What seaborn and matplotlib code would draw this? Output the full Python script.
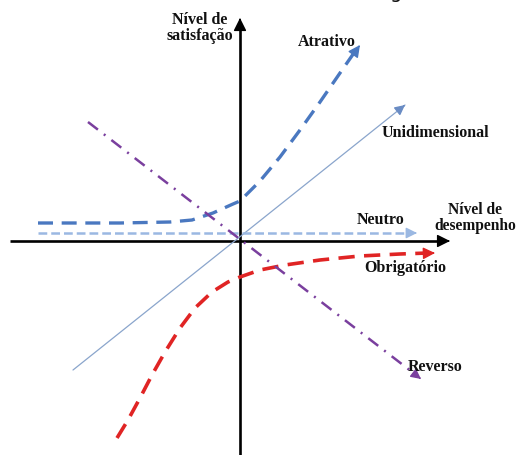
import numpy as np
import pandas as pd
import seaborn as sns
import matplotlib.pyplot as plt

# ---- data (diagram coordinates: origin at the axis crossing) ----
atrativo_x = [-202, -120, -70, -48, -27, -7, 0, 20, 40, 60, 80, 100, 120]
atrativo_y = [18, 18, 19, 21, 28, 37, 40, 60, 84, 111, 139, 168, 196]

neutro_x = [-202, 177]
neutro_y = [8, 8]

unidim_x = [-167, 165]
unidim_y = [-129, 136]

obrig_x = [-123, -112, -100, -88, -75, -60, -45, -28, -12, 0, 20, 45, 80, 120, 160, 195]
obrig_y = [-197, -179, -157, -134, -111, -87, -67, -51, -41, -36, -29, -24, -19, -15, -13, -12]

reverso_x = [-152, 181]
reverso_y = [119, -138]

labels = ["Atrativo", "Unidimensional", "Neutro", "Obrigatório", "Reverso"]
axis_labels = ["Nível de\nsatisfação", "Nível de\ndesempenho"]

sns.set_theme(style="white")
plt.rcParams['font.family'] = ['Liberation Serif', 'DejaVu Serif']

fig = plt.figure(figsize=(5.17, 4.55), dpi=100)
ax = fig.add_axes([0, 0, 1, 1])
ax.set_xlim(-240, 277)
ax.set_ylim(-214, 241)
ax.axis('off')


def head(xs, ys, color, scale=12, lw=1.0):
    x1, y1 = xs[-1], ys[-1]
    x0, y0 = xs[-2], ys[-2]
    d = np.hypot(x1 - x0, y1 - y0)
    ux, uy = (x1 - x0) / d, (y1 - y0) / d
    ax.annotate('', xy=(x1, y1), xytext=(x1 - ux * 2, y1 - uy * 2),
                arrowprops=dict(arrowstyle='-|>,head_length=0.6,head_width=0.3',
                                color=color, lw=lw, shrinkA=0, shrinkB=0,
                                mutation_scale=scale))


# axes
ax.plot([-230, 205], [0, 0], color='black', lw=1.9, solid_capstyle='butt')
head([-230, 210], [0, 0], 'black', scale=13)
ax.plot([0, 0], [-214, 218], color='black', lw=1.9, solid_capstyle='butt')
head([0, 0], [-214, 223], 'black', scale=13)

# unidimensional
sns.lineplot(x=unidim_x, y=unidim_y, sort=False, estimator=None, ax=ax,
             color='#8aa5cc', lw=0.9)
head(unidim_x, unidim_y, '#6a8cc4', scale=10)

# neutro
sns.lineplot(x=neutro_x[:1] + [neutro_x[1] - 6], y=neutro_y, sort=False, estimator=None, ax=ax,
             color='#9bb8e2', lw=1.8, ls=(0, (3.5, 1.6)))
head(neutro_x, neutro_y, '#9bb8e2', scale=11)

# atrativo
sns.lineplot(x=atrativo_x[:-1] + [atrativo_x[-1] - 4], y=atrativo_y[:-1] + [atrativo_y[-1] - 5],
             sort=False, estimator=None, ax=ax,
             color='#4a78c0', lw=2.4, ls=(0, (4.5, 2.6)))
head(atrativo_x, atrativo_y, '#4a78c0', scale=12)

# obrigatorio
sns.lineplot(x=obrig_x[:-1] + [obrig_x[-1] - 7], y=obrig_y, sort=False, estimator=None, ax=ax,
             color='#e02424', lw=2.6, ls=(0, (4.5, 2.6)))
head(obrig_x, obrig_y, '#e02424', scale=12)

# reverso
sns.lineplot(x=[reverso_x[0], reverso_x[1] - 5], y=[reverso_y[0], reverso_y[1] + 4],
             sort=False, estimator=None, ax=ax,
             color='#7a3f9e', lw=1.8, ls=(0, (5, 3, 0.8, 3)))
head(reverso_x, reverso_y, '#7a3f9e', scale=10)

# texts
tk = dict(fontsize=11.5, fontweight='bold', color='#111111', ha='center', va='center')
ax.text(-40, 213, axis_labels[0], linespacing=1.05, **tk)
ax.text(235, 23, axis_labels[1], linespacing=1.05,
        **{**tk, 'fontsize': 11.2})
ax.text(87, 199, labels[0], **tk)
ax.text(195, 108, labels[1], **tk)
ax.text(141, 21, labels[2], **tk)
ax.text(165, -27, labels[3], **tk)
ax.text(195, -126, labels[4], **tk)

# cropped caption fragment at the very top
fig.text(396 / 517, 1 + 1.5 / 455, 'g', fontsize=14, family='DejaVu Sans',
         ha='center', va='baseline', color='#111111')

fig.savefig('out.png', dpi=100)
